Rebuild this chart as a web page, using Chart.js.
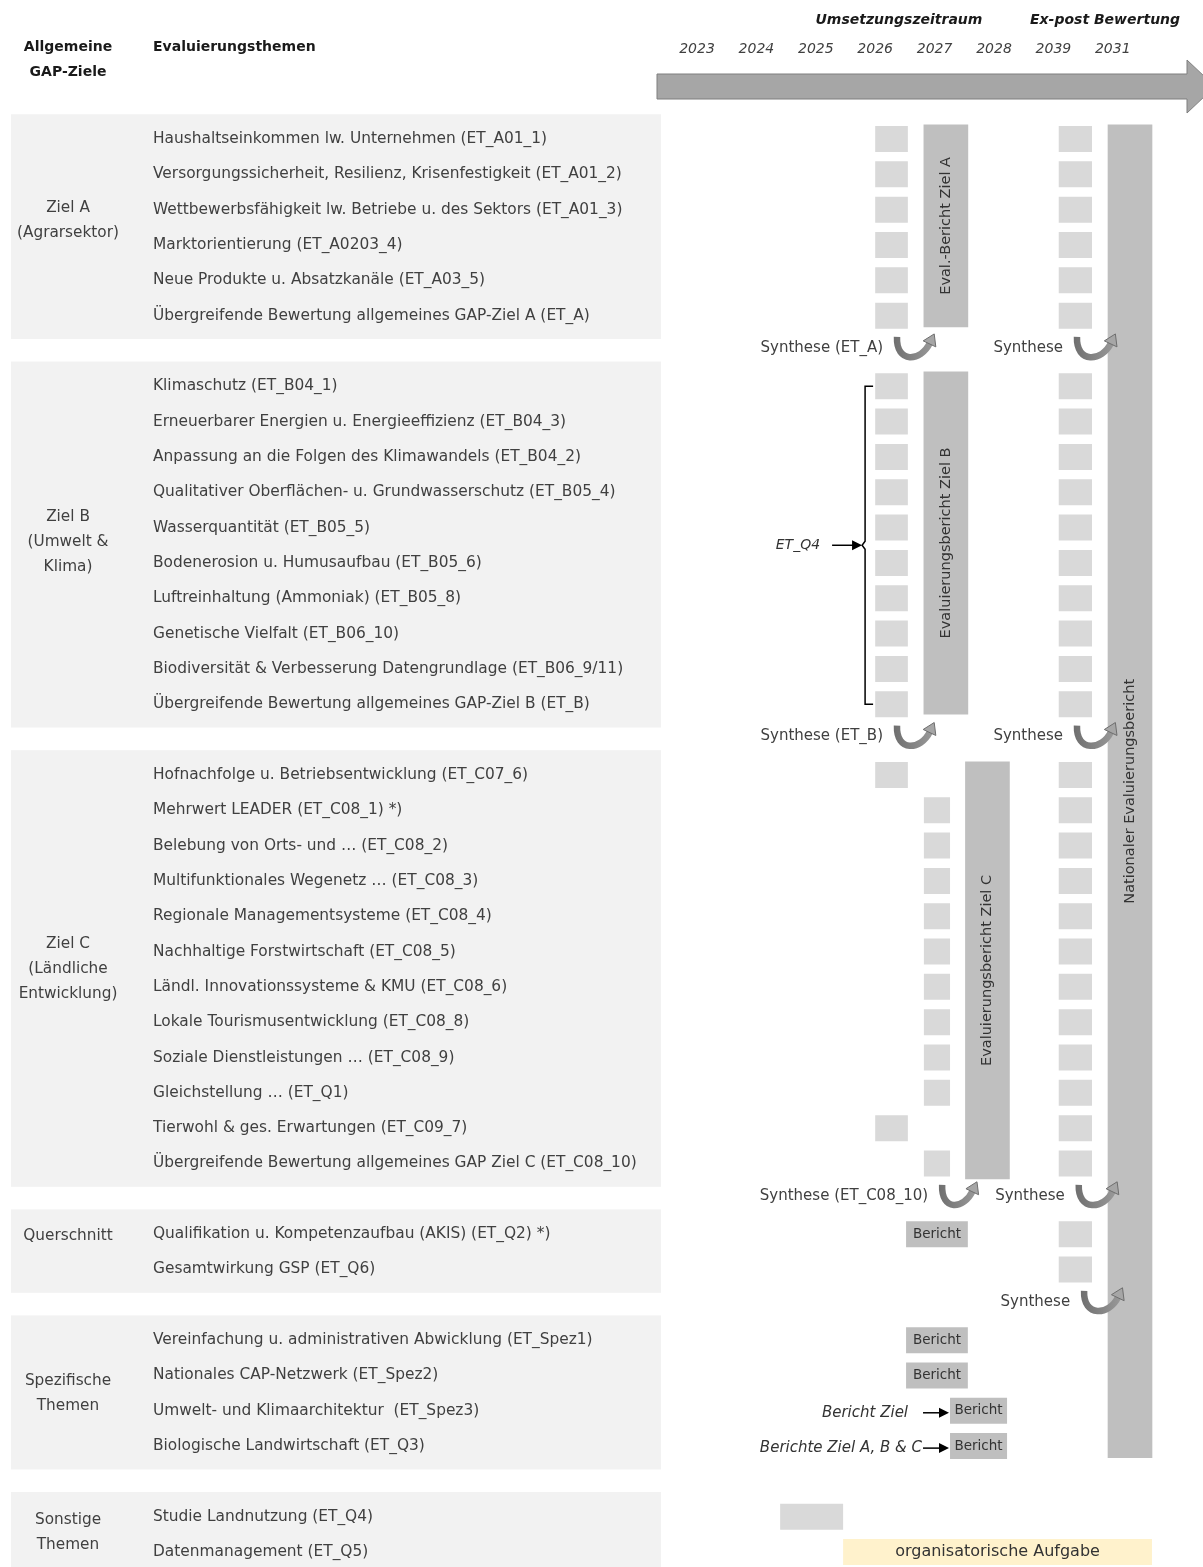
<!DOCTYPE html>
<html><head><meta charset="utf-8">
<script src="https://cdn.jsdelivr.net/npm/chart.js@4.4.1/dist/chart.umd.min.js"></script>
<style>html,body{margin:0;padding:0;background:#fff;overflow:hidden}#wrap{position:relative;width:1203px;height:1582px}</style>
</head><body><div id="wrap"><canvas id="c"></canvas></div>
<script>
// ---------- categories (rows, '' = spacer row) ----------
const rowLabels = [
  'Haushaltseinkommen lw. Unternehmen (ET_A01_1)',
  'Versorgungssicherheit, Resilienz, Krisenfestigkeit (ET_A01_2)',
  'Wettbewerbsfähigkeit lw. Betriebe u. des Sektors (ET_A01_3)',
  'Marktorientierung (ET_A0203_4)',
  'Neue Produkte u. Absatzkanäle (ET_A03_5)',
  'Übergreifende Bewertung allgemeines GAP-Ziel A (ET_A)',
  '',
  'Klimaschutz (ET_B04_1)',
  'Erneuerbarer Energien u. Energieeffizienz (ET_B04_3)',
  'Anpassung an die Folgen des Klimawandels (ET_B04_2)',
  'Qualitativer Oberflächen- u. Grundwasserschutz (ET_B05_4)',
  'Wasserquantität (ET_B05_5)',
  'Bodenerosion u. Humusaufbau (ET_B05_6)',
  'Luftreinhaltung (Ammoniak) (ET_B05_8)',
  'Genetische Vielfalt (ET_B06_10)',
  'Biodiversität & Verbesserung Datengrundlage (ET_B06_9/11)',
  'Übergreifende Bewertung allgemeines GAP-Ziel B (ET_B)',
  '',
  'Hofnachfolge u. Betriebsentwicklung (ET_C07_6)',
  'Mehrwert LEADER (ET_C08_1) *)',
  'Belebung von Orts- und … (ET_C08_2)',
  'Multifunktionales Wegenetz … (ET_C08_3)',
  'Regionale Managementsysteme (ET_C08_4)',
  'Nachhaltige Forstwirtschaft (ET_C08_5)',
  'Ländl. Innovationssysteme & KMU (ET_C08_6)',
  'Lokale Tourismusentwicklung (ET_C08_8)',
  'Soziale Dienstleistungen … (ET_C08_9)',
  'Gleichstellung … (ET_Q1)',
  'Tierwohl & ges. Erwartungen (ET_C09_7)',
  'Übergreifende Bewertung allgemeines GAP Ziel C (ET_C08_10)',
  '',
  'Qualifikation u. Kompetenzaufbau (AKIS) (ET_Q2) *)',
  'Gesamtwirkung GSP (ET_Q6)',
  '',
  'Vereinfachung u. administrativen Abwicklung (ET_Spez1)',
  'Nationales CAP-Netzwerk (ET_Spez2)',
  'Umwelt- und Klimaarchitektur  (ET_Spez3)',
  'Biologische Landwirtschaft (ET_Q3)',
  '',
  'Studie Landnutzung (ET_Q4)',
  'Datenmanagement (ET_Q5)'
];

// ---------- time axis ----------
const yearTicks  = [2023, 2024, 2025, 2026, 2027, 2028, 2029, 2030];
const yearLabels = ['2023', '2024', '2025', '2026', '2027', '2028', '2039', '2031'];
const phaseLabels  = ['Umsetzungszeitraum', 'Ex-post Bewertung'];
const phaseCenters = [2026.4, 2029.87];

// ---------- groups ----------
const groupLines = [['Ziel A', '(Agrarsektor)'], ['Ziel B', '(Umwelt &', 'Klima)'],
  ['Ziel C', '(Ländliche', 'Entwicklung)'], ['Querschnitt'], ['Spezifische', 'Themen'], ['Sonstige', 'Themen']];
const groupFirstRow = [0, 7, 18, 31, 34, 39];
const groupLastRow  = [5, 16, 29, 32, 37, 40];
const groupLabelRow = [2.3, 11.4, 23.5, 31.05, 35.5, 39.45];

// ---------- task boxes per row (start / end in years) ----------
const rows2026 = [0, 1, 2, 3, 4, 5, 7, 8, 9, 10, 11, 12, 13, 14, 15, 16, 18, 28];
const span2026 = [2026.0, 2026.55];
const rows2027 = [19, 20, 21, 22, 23, 24, 25, 26, 27, 29];
const span2027 = [2026.82, 2027.26];
const rowsExPost = [0, 1, 2, 3, 4, 5, 7, 8, 9, 10, 11, 12, 13, 14, 15, 16,
  18, 19, 20, 21, 22, 23, 24, 25, 26, 27, 28, 29, 31, 32];
const spanExPost = [2029.09, 2029.65];
const rowsBerichtA = [31, 34, 35];
const spanBerichtA = [2026.52, 2027.56];
const rowsBerichtB = [36, 37];
const spanBerichtB = [2027.26, 2028.22];
const rowsLandnutzung = [39];
const spanLandnutzung = [2024.40, 2025.46];
const rowsOrga = [40];
const spanOrga = [2025.46, 2030.66];

// ---------- evaluation reports (vertical bars: year, row range) ----------
const reportNames = ['Eval.-Bericht Ziel A', 'Evaluierungsbericht Ziel B', 'Evaluierungsbericht Ziel C', 'Nationaler Evaluierungsbericht'];
const reportYear  = [2027.19, 2027.19, 2027.89, 2030.29];
const reportFrom  = [-0.40, 6.59, 17.63, -0.40];
const reportTo    = [5.32, 16.28, 29.44, 37.33];

// ---------- synthesis steps ----------
const synthRows   = [6, 6, 17, 17, 30, 30, 33];
const synthFrom   = [2026.30, 2029.33, 2026.30, 2029.33, 2027.06, 2029.36, 2029.45];
const synthTo     = [2027.09, 2030.14, 2027.09, 2030.14, 2027.81, 2030.17, 2030.26];
const synthLabels = ['Synthese (ET_A)', 'Synthese', 'Synthese (ET_B)', 'Synthese', 'Synthese (ET_C08_10)', 'Synthese', 'Synthese'];

// ---------- annotations ----------
const braceRows = [7, 16];
const braceYear = 2025.83;
const braceLabel = 'ET_Q4';
const pointerRows = [36, 37];
const pointerLabels = ['Bericht Ziel', 'Berichte Ziel A, B & C'];

// ---------- build ----------
const rowData = (rows, span) => rowLabels.map((_, i) => rows.includes(i) ? span.slice() : null);
const LIGHT = '#d9d9d9', DARK = '#bfbfbf';
const boxDs = (label, rows, span, color, extra) => Object.assign({
  label, data: rowData(rows, span), backgroundColor: color, grouped: false,
  barPercentage: 0.736, categoryPercentage: 1, xAxisID: 'x', yAxisID: 'y'
}, extra || {});

Chart.defaults.font.family = '"DejaVu Sans", sans-serif';
const TXT = '#404040';

function curvedArrow(ctx, x0, x1, cy) {
  const top = cy - 14;
  const E = {x: x1 - 10, y: cy - 8};
  const C2 = {x: x1 - 19, y: cy + 11};
  const g = ctx.createLinearGradient(x0, 0, x1, 0);
  g.addColorStop(0, '#6e6e6e'); g.addColorStop(1, '#a0a0a0');
  ctx.beginPath();
  ctx.moveTo(x0 + 4, top);
  ctx.bezierCurveTo(x0 + 3, cy + 13, C2.x, C2.y, E.x, E.y);
  ctx.lineWidth = 6.5; ctx.strokeStyle = g; ctx.lineCap = 'butt'; ctx.stroke();
  let tx = E.x - C2.x, ty = E.y - C2.y; const len = Math.hypot(tx, ty); tx /= len; ty /= len;
  const nx = -ty, ny = tx;
  ctx.beginPath();
  ctx.moveTo(E.x + tx * 10, E.y + ty * 10);
  ctx.lineTo(E.x + nx * 7 - tx * 1, E.y + ny * 7 - ty * 1);
  ctx.lineTo(E.x - nx * 7 - tx * 1, E.y - ny * 7 - ty * 1);
  ctx.closePath();
  ctx.fillStyle = '#a6a6a6'; ctx.fill();
  ctx.lineWidth = 1; ctx.strokeStyle = '#6e6e6e'; ctx.stroke();
}
function blackArrow(ctx, x0, x1, y) {
  ctx.beginPath(); ctx.moveTo(x0, y); ctx.lineTo(x1 - 8, y);
  ctx.lineWidth = 1.5; ctx.strokeStyle = '#000'; ctx.stroke();
  ctx.beginPath(); ctx.moveTo(x1, y); ctx.lineTo(x1 - 10, y - 5); ctx.lineTo(x1 - 10, y + 5); ctx.closePath();
  ctx.fillStyle = '#000'; ctx.fill();
}

const decor = {
  id: 'decor',
  beforeDraw(chart) {
    const {ctx, chartArea: a} = chart; const yv = chart.scales.yv, xs = chart.scales.x;
    ctx.save();
    ctx.fillStyle = '#f2f2f2';
    groupFirstRow.forEach((f, g) => {
      const t = yv.getPixelForValue(f - 0.7), b = yv.getPixelForValue(groupLastRow[g] + 0.66);
      ctx.fillRect(11, t, a.left - 11, b - t);
    });
    ctx.fillStyle = TXT; ctx.font = '15.3px "DejaVu Sans"'; ctx.textAlign = 'center'; ctx.textBaseline = 'middle';
    groupLines.forEach((lines, g) => {
      const cy = yv.getPixelForValue(groupLabelRow[g]);
      lines.forEach((s, k) => ctx.fillText(s, 68, cy + (k - (lines.length - 1) / 2) * 25));
    });
    ctx.fillStyle = '#1a1a1a'; ctx.font = 'bold 14px "DejaVu Sans"';
    ctx.fillText('Allgemeine', 68, 47); ctx.fillText('GAP-Ziele', 68, 72);
    ctx.textAlign = 'left'; ctx.fillText('Evaluierungsthemen', 153, 47);
    ctx.textAlign = 'center'; ctx.font = 'italic bold 14px "DejaVu Sans"';
    phaseLabels.forEach((s, i) => ctx.fillText(s, xs.getPixelForValue(phaseCenters[i]), 20));
    // timeline arrow
    const L = a.left - 4, R = a.right, hs = R - 16;
    ctx.beginPath();
    ctx.moveTo(L, 74); ctx.lineTo(hs, 74); ctx.lineTo(hs, 60); ctx.lineTo(R + 12, 86.5);
    ctx.lineTo(hs, 113); ctx.lineTo(hs, 99); ctx.lineTo(L, 99); ctx.closePath();
    ctx.fillStyle = '#a6a6a6'; ctx.fill(); ctx.lineWidth = 1; ctx.strokeStyle = '#7f7f7f'; ctx.stroke();
    ctx.restore();
  },
  afterDatasetsDraw(chart) {
    const {ctx} = chart; const yv = chart.scales.yv, xs = chart.scales.x;
    ctx.save();
    ctx.textAlign = 'center'; ctx.textBaseline = 'middle';
    chart.data.datasets.forEach((ds, di) => {
      if (!ds.inLabel && !ds.inLabels) return;
      const meta = chart.getDatasetMeta(di);
      meta.data.forEach((el, j) => {
        if (ds.data[j] == null) return;
        const c = el.getCenterPoint(true);
        if (ds.inLabels) {
          ctx.save(); ctx.translate(c.x, c.y); ctx.rotate(-Math.PI / 2);
          ctx.fillStyle = '#333'; ctx.font = '14.5px "DejaVu Sans"';
          ctx.fillText(ds.inLabels[j], 0, 0); ctx.restore();
        } else {
          ctx.fillStyle = '#333'; ctx.font = ds.inFont;
          ctx.fillText(ds.inLabel, c.x, c.y);
        }
      });
    });
    // synthesis arrows
    synthRows.forEach((r, i) => {
      const cy = yv.getPixelForValue(r);
      const x0 = xs.getPixelForValue(synthFrom[i]), x1 = xs.getPixelForValue(synthTo[i]);
      curvedArrow(ctx, x0, x1, cy);
      ctx.fillStyle = TXT; ctx.font = '15px "DejaVu Sans"'; ctx.textAlign = 'right'; ctx.textBaseline = 'middle';
      ctx.fillText(synthLabels[i], x0 - 10, cy - 3);
    });
    // brace
    const bx = xs.getPixelForValue(braceYear);
    const bt = yv.getPixelForValue(braceRows[0]), bb = yv.getPixelForValue(braceRows[1]), bm = (bt + bb) / 2;
    ctx.beginPath();
    ctx.moveTo(bx + 8, bt); ctx.lineTo(bx, bt); ctx.lineTo(bx, bm - 4); ctx.lineTo(bx - 3, bm);
    ctx.lineTo(bx, bm + 4); ctx.lineTo(bx, bb); ctx.lineTo(bx + 8, bb);
    ctx.lineWidth = 1.5; ctx.strokeStyle = '#000'; ctx.stroke();
    blackArrow(ctx, bx - 33, bx - 3, bm);
    ctx.fillStyle = '#333'; ctx.font = 'italic 14px "DejaVu Sans"'; ctx.textAlign = 'right';
    ctx.fillText(braceLabel, bx - 45, bm);
    // pointers to reports
    const px = xs.getPixelForValue(spanBerichtB[0]);
    const gaps = [15, 1];
    pointerRows.forEach((r, i) => {
      const cy = yv.getPixelForValue(r) + 2;
      blackArrow(ctx, px - 27, px - 1, cy);
      ctx.fillStyle = '#333'; ctx.font = 'italic 15px "DejaVu Sans"'; ctx.textAlign = 'right';
      ctx.fillText(pointerLabels[i], px - 27 - gaps[i], cy);
    });
    ctx.restore();
  }
};

new Chart(document.getElementById('c'), {
  type: 'bar',
  data: {
    labels: rowLabels,
    datasets: [
      boxDs('Bearbeitung 2026', rows2026, span2026, LIGHT),
      boxDs('Bearbeitung 2027', rows2027, span2027, LIGHT),
      boxDs('Ex-post', rowsExPost, spanExPost, LIGHT),
      boxDs('Bericht', rowsBerichtA, spanBerichtA, DARK, {inLabel: 'Bericht', inFont: '13.5px "DejaVu Sans"'}),
      boxDs('Bericht Ziel', rowsBerichtB, spanBerichtB, DARK, {inLabel: 'Bericht', inFont: '13.5px "DejaVu Sans"'}),
      boxDs('Studie Landnutzung', rowsLandnutzung, spanLandnutzung, LIGHT),
      boxDs('organisatorische Aufgabe', rowsOrga, spanOrga, '#fff2cc', {inLabel: 'organisatorische Aufgabe', inFont: '16px "DejaVu Sans"'}),
      {
        label: 'Evaluierungsberichte', indexAxis: 'x', xAxisID: 'x', yAxisID: 'yv',
        data: reportYear.map((x, i) => ({x, y: [reportFrom[i], reportTo[i]]})),
        backgroundColor: DARK, barThickness: 44, grouped: false, inLabels: reportNames
      }
    ]
  },
  options: {
    indexAxis: 'y',
    responsive: true, maintainAspectRatio: false, animation: false, events: [],
    layout: {padding: {left: 153, top: 0, right: 0, bottom: 0}},
    plugins: {legend: {display: false}, tooltip: {enabled: false}},
    scales: {
      x: {
        type: 'linear', position: 'top', min: 2022.394, max: 2031.519, offset: false,
        grid: {display: false, drawTicks: false, offset: false}, border: {display: false},
        afterBuildTicks: s => { s.ticks = yearTicks.map(v => ({value: v})); },
        afterFit: s => { s.height = 121.34; },
        ticks: {
          autoSkip: false, maxRotation: 0, padding: 64, color: TXT,
          font: {size: 14, style: 'italic'},
          callback: (v) => { const k = yearTicks.indexOf(v); return k >= 0 ? yearLabels[k] : ''; }
        }
      },
      y: {
        type: 'category', position: 'left', offset: true,
        grid: {display: false, drawTicks: false}, border: {display: false},
        afterFit: s => { s.width = 508; },
        ticks: {autoSkip: false, crossAlign: 'far', color: TXT, font: {size: 15.4}}
      },
      yv: {
        type: 'linear', position: 'left', display: false, reverse: true, min: -0.5, max: 40.5,
        offset: false, grace: 0, grid: {display: false, offset: false},
        ticks: {includeBounds: true}
      }
    }
  },
  plugins: [decor]
});
</script></body></html>
